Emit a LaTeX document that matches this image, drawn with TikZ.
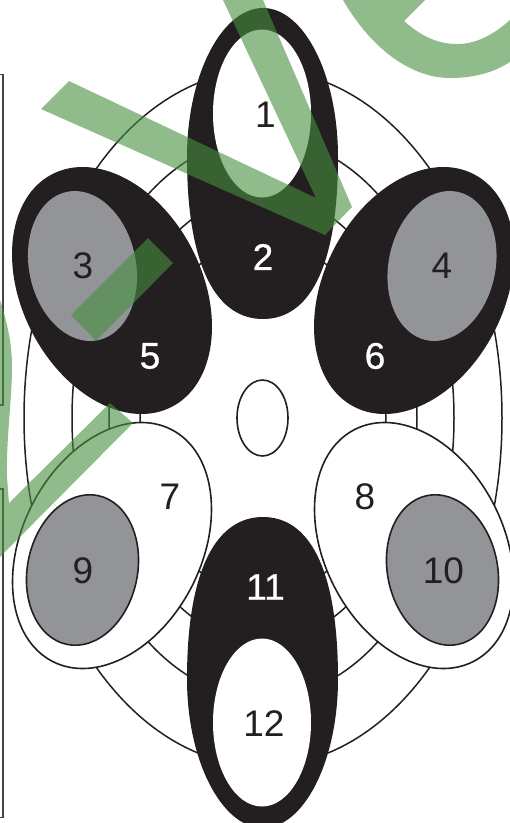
\documentclass[tikz,border=0pt]{standalone}
\usepackage{fontspec}
\setmainfont{Liberation Sans}
\newfontfamily\heavyface[FakeBold=0.8]{Liberation Sans}
\definecolor{ink}{RGB}{35,31,32}
\definecolor{midgray}{RGB}{147,148,151}
\definecolor{wm}{RGB}{70,143,62}
\tikzset{
  ring/.style={draw=ink,line width=1.5pt,fill=none},
  lobeblack/.style={fill=ink},
  lobewhite/.style={fill=white,draw=ink,line width=1.6pt},
  seedgray/.style={fill=midgray},
  seedline/.style={fill=midgray,draw=ink,line width=1.6pt},
  hole/.style={fill=white},
  watermark/.style={fill=wm,fill opacity=.6},
  framing/.style={draw=ink!85,line width=1.3pt},
  darklabel/.style={text=ink,font=\fontsize{37}{37}\selectfont,inner sep=0pt},
  lightlabel/.style={text=white,font=\heavyface\fontsize{37}{37}\selectfont,inner sep=0pt},
}
\begin{document}
\begin{tikzpicture}[x=1pt,y=1pt,yscale=-1]
\useasboundingbox (0,0) rectangle (510,823);
\clip (0,0) rectangle (510,823);
% frame pieces
\draw[framing] (0,74.5) -- (3,74.5) -- (3,405) -- (0,405);
\draw[framing] (0,489) -- (3,489) -- (3,817.5) -- (0,817.5);
% concentric rings
\draw[ring] (263,418) circle [x radius=239,y radius=348];
\draw[ring] (263,418) circle [x radius=191,y radius=280];
\draw[ring] (263,418) circle [x radius=154,y radius=224];
\draw[ring] (263,418) circle [x radius=123,y radius=179];
% top and bottom lobes
\path[lobeblack] (263,8) .. controls (222,8) and (187,75) .. (187,157)
  .. controls (187,270) and (218,319) .. (263,319)
  .. controls (308,319) and (338,270) .. (338,157)
  .. controls (338,75) and (304,8) .. (263,8) -- cycle;
\path[lobeblack] (263,828) .. controls (222,828) and (187,761) .. (187,679)
  .. controls (187,566) and (218,517) .. (263,517)
  .. controls (308,517) and (338,566) .. (338,679)
  .. controls (338,761) and (304,828) .. (263,828) -- cycle;
\path[hole] (262,113.5) circle [x radius=49,y radius=84];
\path[hole] (262,722.5) circle [x radius=49,y radius=84];
% side lobes
\path[lobeblack,shift={(112,290.5)},rotate=62.9] (0,0) circle [x radius=130.8,y radius=90.2];
\path[lobeblack,shift={(414,290.5)},rotate=117.1] (0,0) circle [x radius=130.8,y radius=90.2];
\path[lobewhite,shift={(112,545.5)},rotate=117.1] (0,0) circle [x radius=130.3,y radius=89.7];
\path[lobewhite,shift={(414,545.5)},rotate=62.9] (0,0) circle [x radius=130.3,y radius=89.7];
% grey seeds
\path[seedgray,shift={(82.5,266)},rotate=78.2] (0,0) circle [x radius=75.8,y radius=53.4];
\path[seedgray,shift={(442,266)},rotate=101.8] (0,0) circle [x radius=75.8,y radius=53.4];
\path[seedline,shift={(82.5,570)},rotate=101.8] (0,0) circle [x radius=76,y radius=55];
\path[seedline,shift={(442.5,570)},rotate=78.2] (0,0) circle [x radius=76,y radius=55];
% centre
\path[lobewhite] (262.5,418) circle [x radius=25.5,y radius=38];
% labels
\node[darklabel] (n1) at (265.5,115) {1};
\node[lightlabel] (n2) at (263,257) {2};
\node[darklabel] (n3) at (83,266) {3};
\node[darklabel] (n4) at (442,266) {4};
\node[lightlabel] (n5) at (150,356) {5};
\node[lightlabel] (n6) at (375,356) {6};
\node[darklabel] (n7) at (170,497) {7};
\node[darklabel] (n8) at (365,497) {8};
\node[darklabel] (n9) at (83,571) {9};
\node[darklabel] (n10) at (443.5,571) {10};
\node[lightlabel] (n11) at (265.5,587) {11};
\node[darklabel] (n12) at (264,724) {12};
% watermark strokes
\path[watermark] (41,109) -- (69,81) -- (316,198) -- (223,0) -- (263,0) -- (352,207) -- (325,235) -- cycle;
\path[watermark] (148,238) -- (173,263) -- (96,341) -- (71,315) -- cycle;
\path[watermark] (343,0) .. controls (372,50) and (412,78) .. (450,78)
  .. controls (473,78) and (493,73) .. (510,62) -- (510,20)
  .. controls (492,36) and (475,44) .. (457,44)
  .. controls (436,44) and (420,35) .. (404,21) -- (425,0) -- cycle;
\path[watermark] (0,300) .. controls (8,325) and (12,345) .. (12,367)
  .. controls (12,400) and (6,440) .. (7,477) -- (9,503) -- (110,403) -- (133,423) -- (0,557) -- cycle;
\end{tikzpicture}
\end{document}
